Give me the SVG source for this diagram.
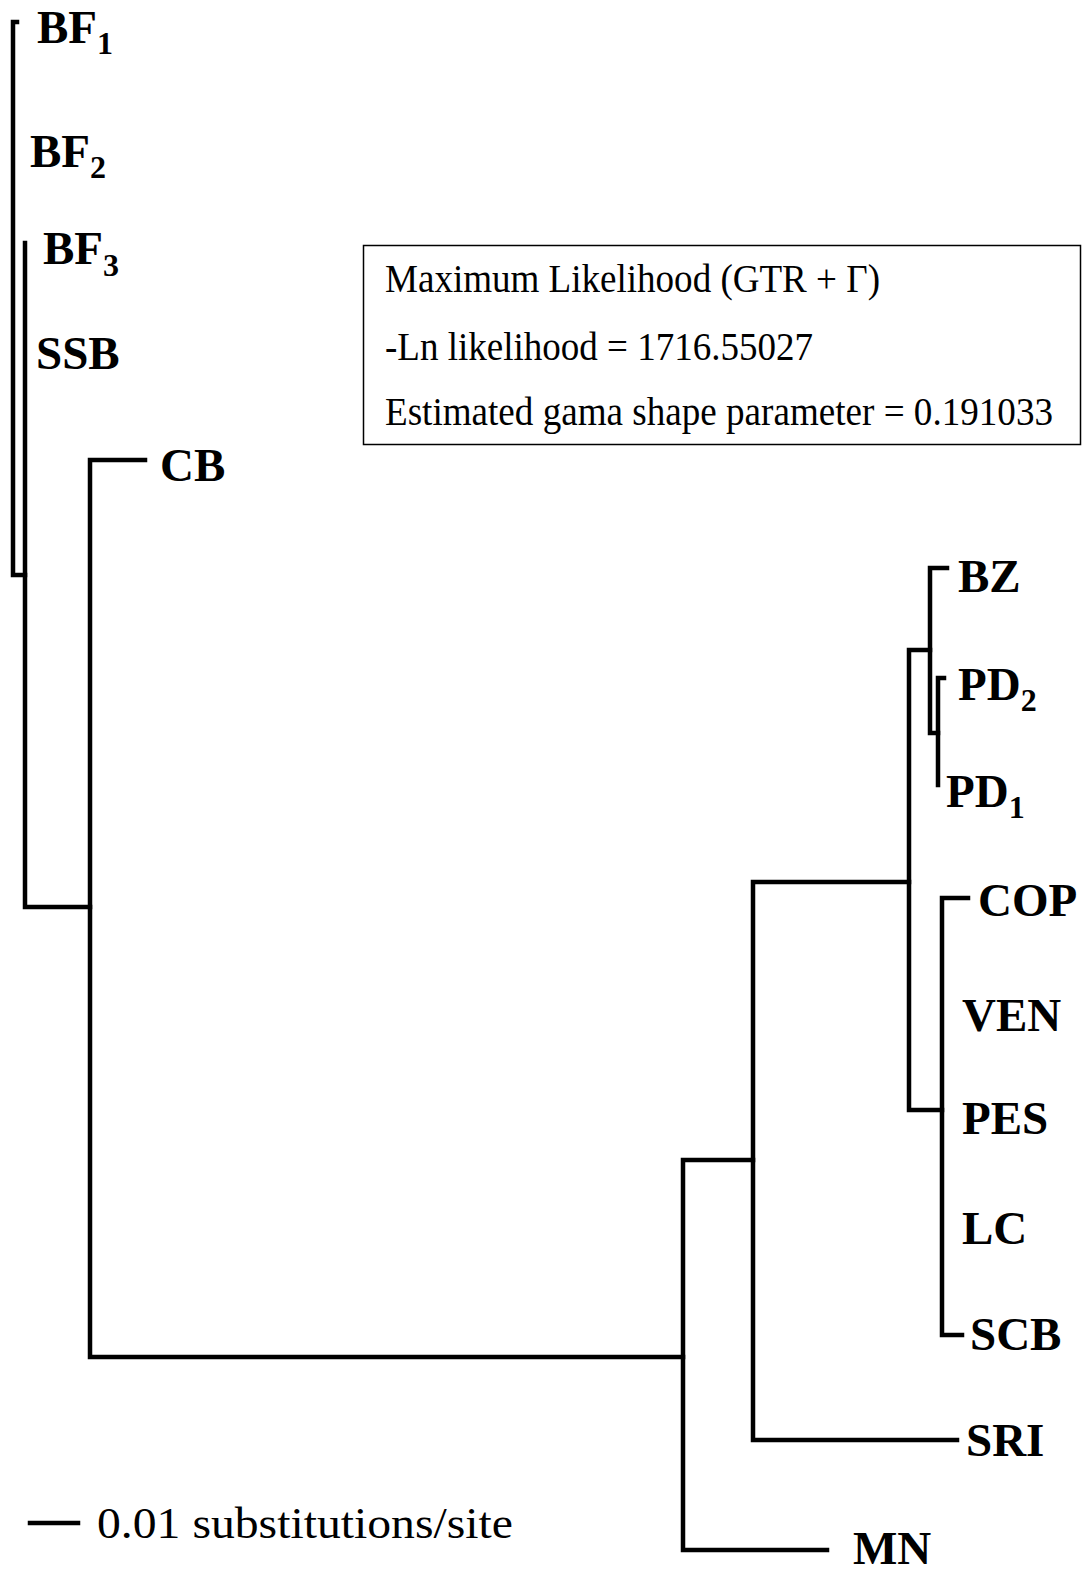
<svg xmlns="http://www.w3.org/2000/svg" width="1085" height="1572" viewBox="0 0 1085 1572">
<style>
.br{fill:none;stroke:#000;stroke-width:4.5;stroke-linecap:square;stroke-linejoin:miter}
.lb{font-family:"Liberation Serif","Times New Roman",serif;font-weight:bold;font-size:47px;fill:#000}
.sb{font-size:32px}
.tx{font-family:"Liberation Serif","Times New Roman",serif;font-size:39px;fill:#000}
</style>
<rect width="1085" height="1572" fill="#fff"/>
<g id="connectors">
<path class="br" d="M17,22 H13 V575 H25"/>
<path class="br" d="M25,243 V907 H90"/>
<path class="br" d="M145,460 H90 V1357 H683"/>
<path class="br" d="M753,1160 H683 V1550 H827"/>
<path class="br" d="M909,882 H753 V1440 H957"/>
<path class="br" d="M930,650 H909 V1110 H942"/>
<path class="br" d="M947,568 H930 V733 H938"/>
<path class="br" d="M944,678 H938 V785"/>
<path class="br" d="M968,898 H942 V1335 H962"/>
<path class="br" d="M30,1523 H78" stroke-linecap="butt"/>
</g>
<g id="BF1"><text class="lb" x="37" y="43">BF<tspan class="sb" dy="11">1</tspan></text></g>
<g id="BF2"><text class="lb" x="30" y="167">BF<tspan class="sb" dy="11">2</tspan></text></g>
<g id="BF3"><text class="lb" x="43" y="264">BF<tspan class="sb" dy="12">3</tspan></text></g>
<g id="SSB"><text class="lb" x="36" y="369">SSB</text></g>
<g id="CB"><text class="lb" x="160" y="481">CB</text></g>
<g id="BZ"><text class="lb" x="958" y="592">BZ</text></g>
<g id="PD2"><text class="lb" x="958" y="700">PD<tspan class="sb" dy="11">2</tspan></text></g>
<g id="PD1"><text class="lb" x="946" y="807">PD<tspan class="sb" dy="11">1</tspan></text></g>
<g id="COP"><text class="lb" x="978" y="916">COP</text></g>
<g id="VEN"><text class="lb" x="962" y="1031">VEN</text></g>
<g id="PES"><text class="lb" x="962" y="1134">PES</text></g>
<g id="LC"><text class="lb" x="962" y="1244">LC</text></g>
<g id="SCB"><text class="lb" x="970" y="1350">SCB</text></g>
<g id="SRI"><text class="lb" x="966" y="1456">SRI</text></g>
<g id="MN"><text class="lb" x="853" y="1564">MN</text></g>
<g id="infobox">
<rect x="363.5" y="245.5" width="717" height="199" fill="#fff" stroke="#000" stroke-width="1.5"/>
<text class="tx" x="385" y="292" textLength="495" lengthAdjust="spacingAndGlyphs">Maximum Likelihood (GTR + Γ)</text>
<text class="tx" x="385" y="360" textLength="428" lengthAdjust="spacingAndGlyphs">-Ln likelihood = 1716.55027</text>
<text class="tx" x="385" y="425" textLength="668" lengthAdjust="spacingAndGlyphs">Estimated gama shape parameter = 0.191033</text>
</g>
<g id="scale"><text class="tx" x="97" y="1538" style="font-size:45px" textLength="416" lengthAdjust="spacingAndGlyphs">0.01 substitutions/site</text></g>
</svg>
